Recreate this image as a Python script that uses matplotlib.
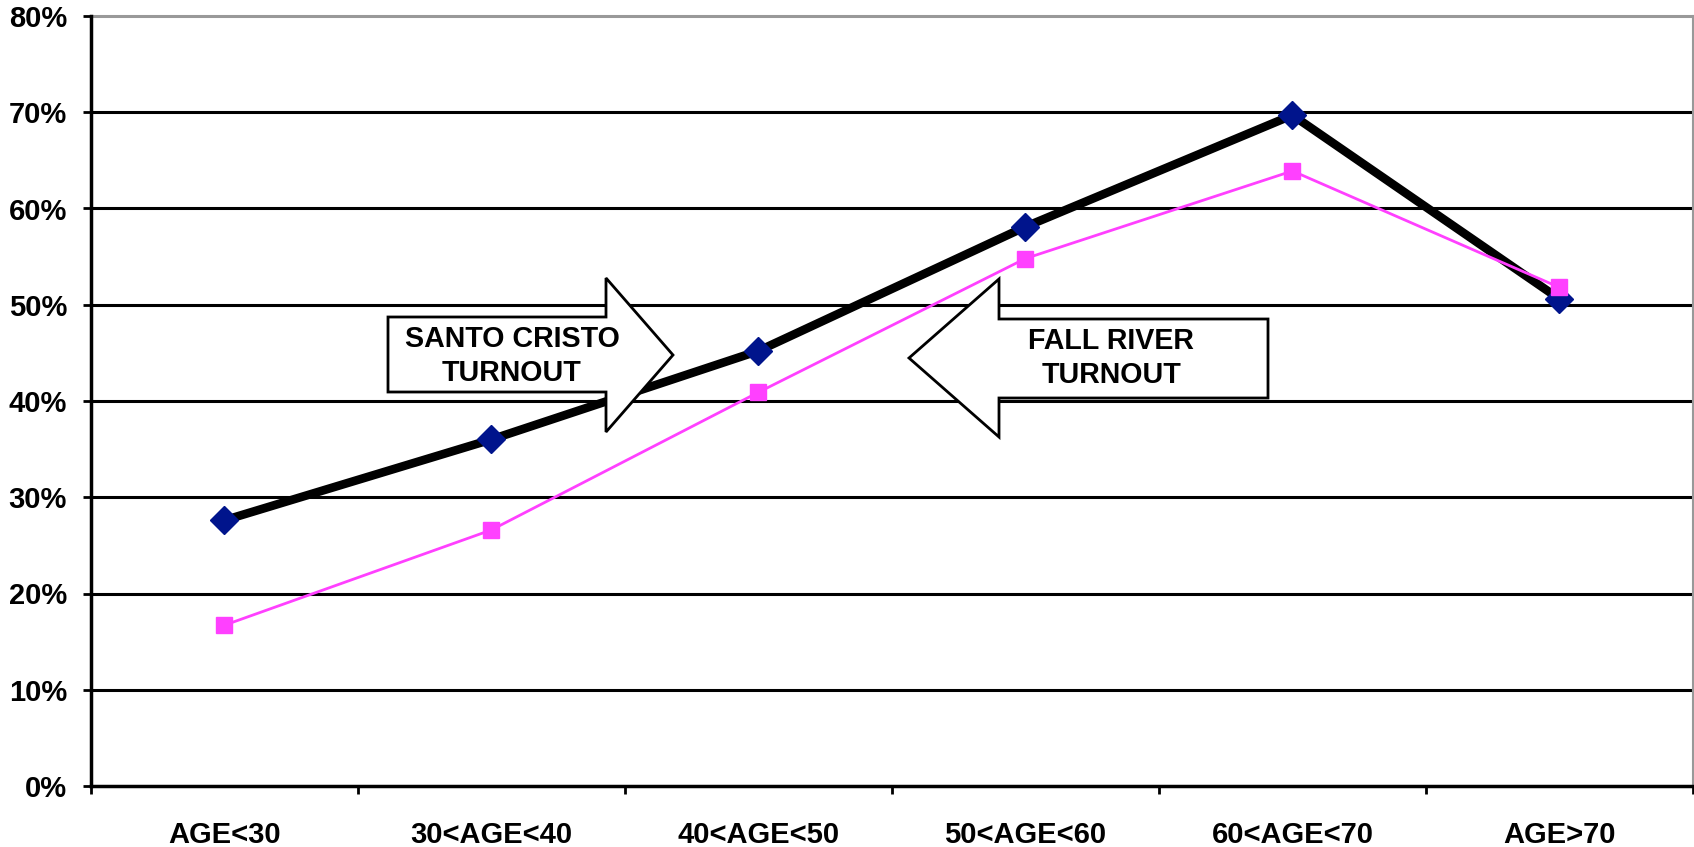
import numpy as np
import matplotlib
matplotlib.use('Agg')
import matplotlib.pyplot as plt
from matplotlib.patches import Polygon
from matplotlib.ticker import FixedLocator, FuncFormatter

# Data
categories = ['AGE<30', '30<AGE<40', '40<AGE<50', '50<AGE<60', '60<AGE<70', 'AGE>70']
santo_cristo = [27.6, 36.0, 45.2, 58.1, 69.7, 50.6]
fall_river = [16.7, 26.6, 40.9, 54.8, 63.9, 51.8]
y_ticks = [0, 10, 20, 30, 40, 50, 60, 70, 80]

plt.rcParams['font.family'] = ['Liberation Sans', 'DejaVu Sans']
plt.rcParams['font.weight'] = 'bold'

W, H = 1694, 847
fig = plt.figure(figsize=(W / 100, H / 100), dpi=100)
ax = fig.add_axes([90.7 / W, 1 - 786 / H, (1693 - 90.7) / W, (786 - 16) / H])

x = np.arange(len(categories))

# Gridlines
for v in y_ticks[1:-1]:
    ax.axhline(v, color='black', lw=2.2, zorder=1)
ax.axhline(80, color='#999999', lw=2.2, zorder=1, clip_on=False)

ax.plot(x, santo_cristo, color='black', lw=6.2, marker='D', ms=14,
        markerfacecolor='#00148c', markeredgecolor='#00148c', zorder=5)
ax.plot(x, fall_river, color='#ff40ff', lw=2, marker='s', ms=11,
        markerfacecolor='#ff40ff', markeredgecolor='#ff40ff', zorder=6)

ax.set_xlim(-0.5, len(categories) - 0.5)
ax.set_ylim(0, 80)

# Axes styling
ax.spines['left'].set_linewidth(2.5)
ax.spines['bottom'].set_linewidth(2.5)
ax.spines['top'].set_visible(False)
ax.spines['right'].set_color('#999999')
ax.spines['right'].set_linewidth(1.5)

ax.set_yticks(y_ticks)
ax.yaxis.set_major_formatter(FuncFormatter(lambda v, p: f'{int(v)}%'))
ax.tick_params(axis='y', length=6, width=2, pad=11, labelsize=21)

ax.xaxis.set_major_locator(FixedLocator(np.arange(-0.5, len(categories), 1.0)))
ax.xaxis.set_major_formatter(FuncFormatter(lambda v, p: ''))
ax.xaxis.set_minor_locator(FixedLocator(x))
ax.set_xticklabels(categories, minor=True)
ax.tick_params(axis='x', which='major', length=6, width=2)
ax.tick_params(axis='x', which='minor', length=0, pad=25, labelsize=21)

# Block arrows, in figure pixel coordinates
def px(pts):
    return [(a / W, 1 - b / H) for a, b in pts]

right_arrow = [(388, 317), (606, 317), (606, 278), (673, 355),
               (606, 432), (606, 392), (388, 392)]
left_arrow = [(1268, 319), (999, 319), (999, 279), (909, 358),
              (999, 437), (999, 398), (1268, 398)]
for pts in (right_arrow, left_arrow):
    fig.patches.append(Polygon(px(pts), closed=True, transform=fig.transFigure,
                               facecolor='white', edgecolor='black', lw=2,
                               zorder=2))

fig.text(512 / W, 1 - 356 / H, 'SANTO CRISTO\nTURNOUT', ha='center', va='center',
         fontsize=20.6, fontweight='bold', linespacing=1.25, zorder=3)
fig.text(1111 / W, 1 - 358 / H, 'FALL RIVER\nTURNOUT', ha='center', va='center',
         fontsize=20.6, fontweight='bold', linespacing=1.25, zorder=3)

fig.savefig('out.png', dpi=100)
